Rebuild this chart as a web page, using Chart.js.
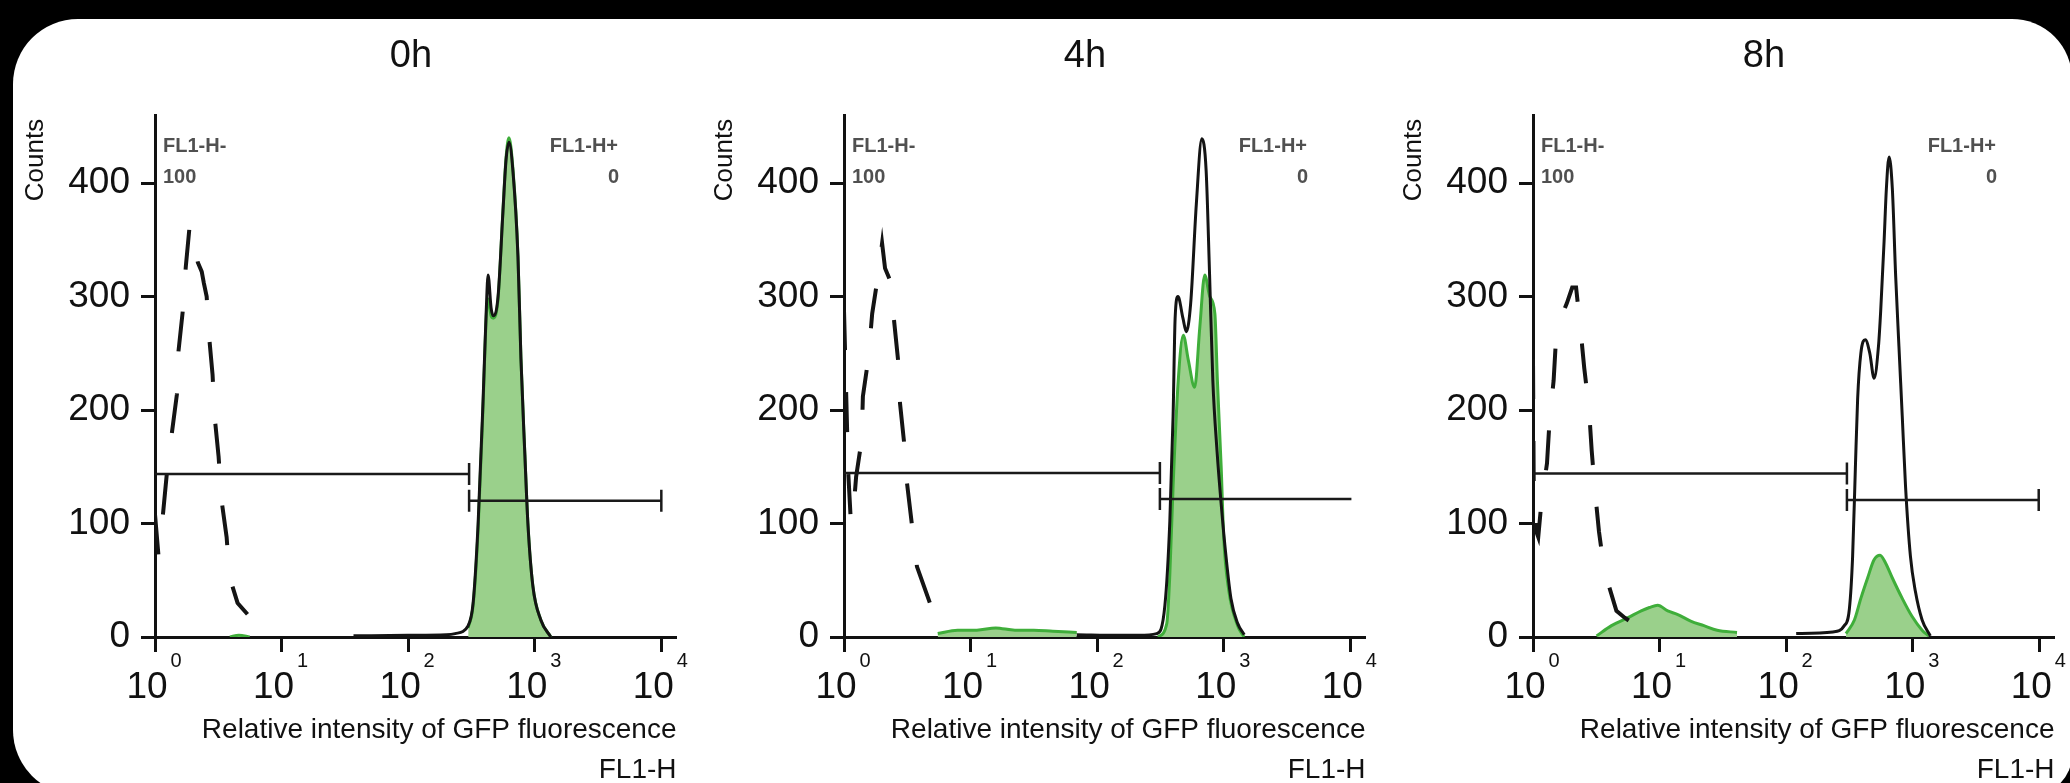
<!DOCTYPE html>
<html>
<head>
<meta charset="utf-8">
<script src="https://cdn.jsdelivr.net/npm/chart.js@4.4.1/dist/chart.umd.min.js"></script>
<style>
  html, body { margin: 0; padding: 0; background: #000; width: 2070px; height: 783px; overflow: hidden; }
  #card { position: absolute; left: 13px; top: 19px; width: 2059px; height: 776px; background: #fff; border-radius: 65px 60px 40px 65px; }
  canvas { position: absolute; top: 0; }
</style>
</head>
<body>
<div id="card"></div>
<canvas id="c0" width="690" height="783" style="left:0px"></canvas>
<canvas id="c1" width="690" height="783" style="left:689px"></canvas>
<canvas id="c2" width="690" height="783" style="left:1378px"></canvas>
<script>
const FONT = '"Liberation Sans", Arial, sans-serif';

const panelTitles = ['0h', '4h', '8h'];
const decadeTicks = [1, 10, 100, 1000, 10000];
const countTicks = [0, 100, 200, 300, 400];
const gateNames = ['FL1-H-', 'FL1-H+'];
const negPercent = [100, 100, 100];
const posPercent = [0, 0, 0];

// [FL1-H intensity, counts]
// unstained control (dashed)
const control0h = [[1.0,108],[1.065,72],[1.10,85],[1.16,110],[1.24,144],[1.36,180],[1.49,214],[1.53,251],[1.66,288],[1.75,326],[1.88,363],[1.99,352],[2.18,330],[2.34,322],[2.43,312],[2.56,300],[2.66,268],[2.85,231],[2.96,194],[3.18,159],[3.36,120],[3.68,88],[3.88,53],[4.49,30],[5.38,20]];
const control4h = [[1.0,288],[1.08,145],[1.125,108],[1.166,100],[1.246,141],[1.38,174],[1.41,212],[1.56,246],[1.67,285],[1.86,319],[2.0,347],[2.11,325],[2.32,314],[2.49,278],[2.68,243],[2.77,206],[2.98,172],[3.09,143],[3.44,99],[3.77,62],[4.77,30]];
const control8h = [[1.0,245],[1.014,127],[1.06,93],[1.10,88],[1.166,119],[1.29,153],[1.35,190],[1.455,226],[1.52,263],[1.64,280],[1.85,294],[2.04,308],[2.19,308],[2.36,274],[2.54,237],[2.77,201],[2.91,164],[3.08,130],[3.32,93],[3.65,59],[4.56,23],[5.30,17],[7.6,5]];

// 0h GFP reference (black outline)
const ref0h = [[37,1],[100,1.5],[200,2],[235,3],[298,10],[326,30],[357,100],[391,210],[413,285],[428,319],[452,290],[470,283],[513,300],[561,375],[593,420],[626,436],[673,410],[737,335],[778,245],[836,160],[883,100],[966,45],[1117,15],[1339,0]];
const ref4h = [[69,2],[150,1.5],[214,1.5],[295,3],[343,28],[375,102],[398,195],[413,281],[435,300],[476,281],[506,269],[548,294],[607,381],[671,439],[726,411],[773,319],[820,226],[885,164],[953,118],[1042,71],[1140,34],[1288,12],[1452,2]];
const ref8h = [[120,3],[234,4.5],[288,10],[316,25],[335,71],[352,148],[367,210],[389,250],[422,262],[458,250],[495,228],[536,256],[558,287],[594,349],[619,395],[650,423],[690,395],[733,318],[778,256],[826,195],[877,133],[959,71],[1050,40],[1186,15],[1377,1]];

// GFP sample at each time point (green)
const gfp0h = [[3.9,0],[4.6,1.5],[5.6,0],[6,null],[298,8],[326,28],[357,95],[391,205],[413,280],[428,298],[452,283],[470,281],[513,298],[561,376],[593,422],[626,440],[673,412],[737,336],[778,246],[836,160],[883,100],[966,45],[1117,15],[1339,0]];
const gfp4h = [[5.5,3],[7.9,6],[11.2,6],[15.8,8],[22.4,6],[31.6,6],[44.7,5],[69,4],[80,null],[302,0],[355,12],[375,55],[398,133],[437,226],[479,266],[525,244],[589,220],[646,272],[708,319],[776,300],[851,285],[891,226],[955,149],[1000,87],[1096,41],[1288,10],[1445,0]];
const gfp8h = [[3.18,1],[4.17,10],[5.62,17],[7.16,23],[8.32,26],[9.66,28],[11.6,23],[13.8,20],[17.6,14],[22.4,10],[28.5,6],[40.9,4],[50,null],[297,3],[346,15],[389,34],[440,52],[495,68],[552,72],[611,65],[690,52],[826,34],[989,18],[1186,6],[1337,1]];

// gate markers
const gateNeg0h = [[1,143.6],[303,143.6]];
const gatePos0h = [[303,120],[10000,120]];
const gateNeg4h = [[1,144.5],[313,144.5]];
const gatePos4h = [[313,121.6],[10200,121.6]];
const gateNeg8h = [[1,144],[302,144]];
const gatePos8h = [[302,120.7],[9890,120.7]];

const toXY = arr => arr.map(([x, y]) => ({ x, y }));

const decor = {
  id: 'decor',
  afterDraw(chart, args, o) {
    const { ctx, chartArea: a, scales: { x } } = chart;
    ctx.save();
    ctx.fillStyle = '#111';
    ctx.textBaseline = 'alphabetic';
    ctx.textAlign = 'center';
    ctx.font = `38px ${FONT}`;
    ctx.fillText(o.title, o.titleX, 67);
    ctx.font = `20px ${FONT}`;
    decadeTicks.forEach(v => ctx.fillText(String(Math.round(Math.log10(v))), x.getPixelForValue(v) + 21, 667));
    ctx.save();
    ctx.translate(36, 160);
    ctx.rotate(-Math.PI / 2);
    ctx.font = `26px ${FONT}`;
    ctx.textBaseline = 'middle';
    ctx.fillText('Counts', 0, 0);
    ctx.restore();
    ctx.fillStyle = '#505050';
    ctx.font = `bold 20px ${FONT}`;
    ctx.textAlign = 'left';
    ctx.fillText(gateNames[0], a.left + 8, 152);
    ctx.fillText(String(o.neg), a.left + 8, 183);
    ctx.textAlign = 'right';
    ctx.fillText(gateNames[1], a.left + 463, 152);
    ctx.fillText(String(o.pos), a.left + 464, 183);
    ctx.restore();
  }
};

function gateSet(pts, caps) {
  return {
    data: toXY(pts), borderColor: '#1a1a1a', borderWidth: 2.5, fill: false,
    pointStyle: 'line', rotation: 90, pointRadius: caps.map(c => c ? 11 : 0),
    pointBorderColor: '#1a1a1a', pointBorderWidth: 2.5, pointHoverRadius: 0,
  };
}

function buildPanel(id, p) {
  return new Chart(document.getElementById(id), {
    type: 'line',
    data: {
      datasets: [
        gateSet(p.neg, p.negCaps),
        gateSet(p.pos, p.posCaps),
        { data: toXY(p.ref), borderColor: '#141414', borderWidth: 3, pointRadius: 0, fill: false, cubicInterpolationMode: 'monotone' },
        { data: toXY(p.ctrl), borderColor: '#141414', borderWidth: 4, borderDash: [40, 42], pointRadius: 0, fill: false, tension: 0 },
        { data: toXY(p.gfp), borderColor: '#3fae3a', borderWidth: 3, backgroundColor: '#9ad08b', fill: 'origin', pointRadius: 0, spanGaps: false, cubicInterpolationMode: 'monotone' },
      ],
    },
    options: {
      responsive: false,
      animation: false,
      events: [],
      layout: { padding: { left: 0, right: 10.5, top: 115, bottom: 0 } },
      plugins: {
        legend: { display: false },
        tooltip: { enabled: false },
        decor: { title: p.title, titleX: p.titleX, neg: p.negPct, pos: p.posPct },
      },
      scales: {
        x: {
          type: 'logarithmic', min: 1, max: 13180, z: 1,
          border: { display: true, color: '#111', width: 3 },
          grid: { drawOnChartArea: false, drawTicks: true, tickLength: 15, tickWidth: 3, tickColor: '#111' },
          ticks: { autoSkip: false, maxRotation: 0, minRotation: 0, padding: 14, labelOffset: -8, color: '#111', font: { size: 37 }, callback: () => '10' },
          afterBuildTicks: s => { s.ticks = decadeTicks.map(v => ({ value: v })); },
          afterFit: s => { s.height = 146; s.paddingLeft = 0; s.paddingRight = 0; },
          title: { display: true, text: ['Relative intensity of GFP fluorescence', 'FL1-H'], align: 'end', color: '#111', font: { size: 28, lineHeight: 40 / 28 }, padding: { top: 0, bottom: -7 } },
        },
        y: {
          type: 'linear', min: 0, max: 460, z: 1,
          border: { display: true, color: '#111', width: 3 },
          grid: { drawOnChartArea: false, drawTicks: true, tickLength: 14, tickWidth: 3, tickColor: '#111' },
          ticks: { padding: 11, color: '#111', font: { size: 37 } },
          afterBuildTicks: s => { s.ticks = countTicks.map(v => ({ value: v })); },
          afterFit: s => { s.width = 155; s.paddingTop = 0; s.paddingBottom = 0; },
        },
      },
    },
    plugins: [decor],
  });
}

Chart.defaults.font.family = FONT;

buildPanel('c0', { title: panelTitles[0], titleX: 411, ctrl: control0h, ref: ref0h, gfp: gfp0h, neg: gateNeg0h, pos: gatePos0h, negCaps: [false, true], posCaps: [true, true], negPct: negPercent[0], posPct: posPercent[0] });
buildPanel('c1', { title: panelTitles[1], titleX: 396, ctrl: control4h, ref: ref4h, gfp: gfp4h, neg: gateNeg4h, pos: gatePos4h, negCaps: [false, true], posCaps: [true, false], negPct: negPercent[1], posPct: posPercent[1] });
buildPanel('c2', { title: panelTitles[2], titleX: 386, ctrl: control8h, ref: ref8h, gfp: gfp8h, neg: gateNeg8h, pos: gatePos8h, negCaps: [false, true], posCaps: [true, true], negPct: negPercent[2], posPct: posPercent[2] });
</script>
</body>
</html>
